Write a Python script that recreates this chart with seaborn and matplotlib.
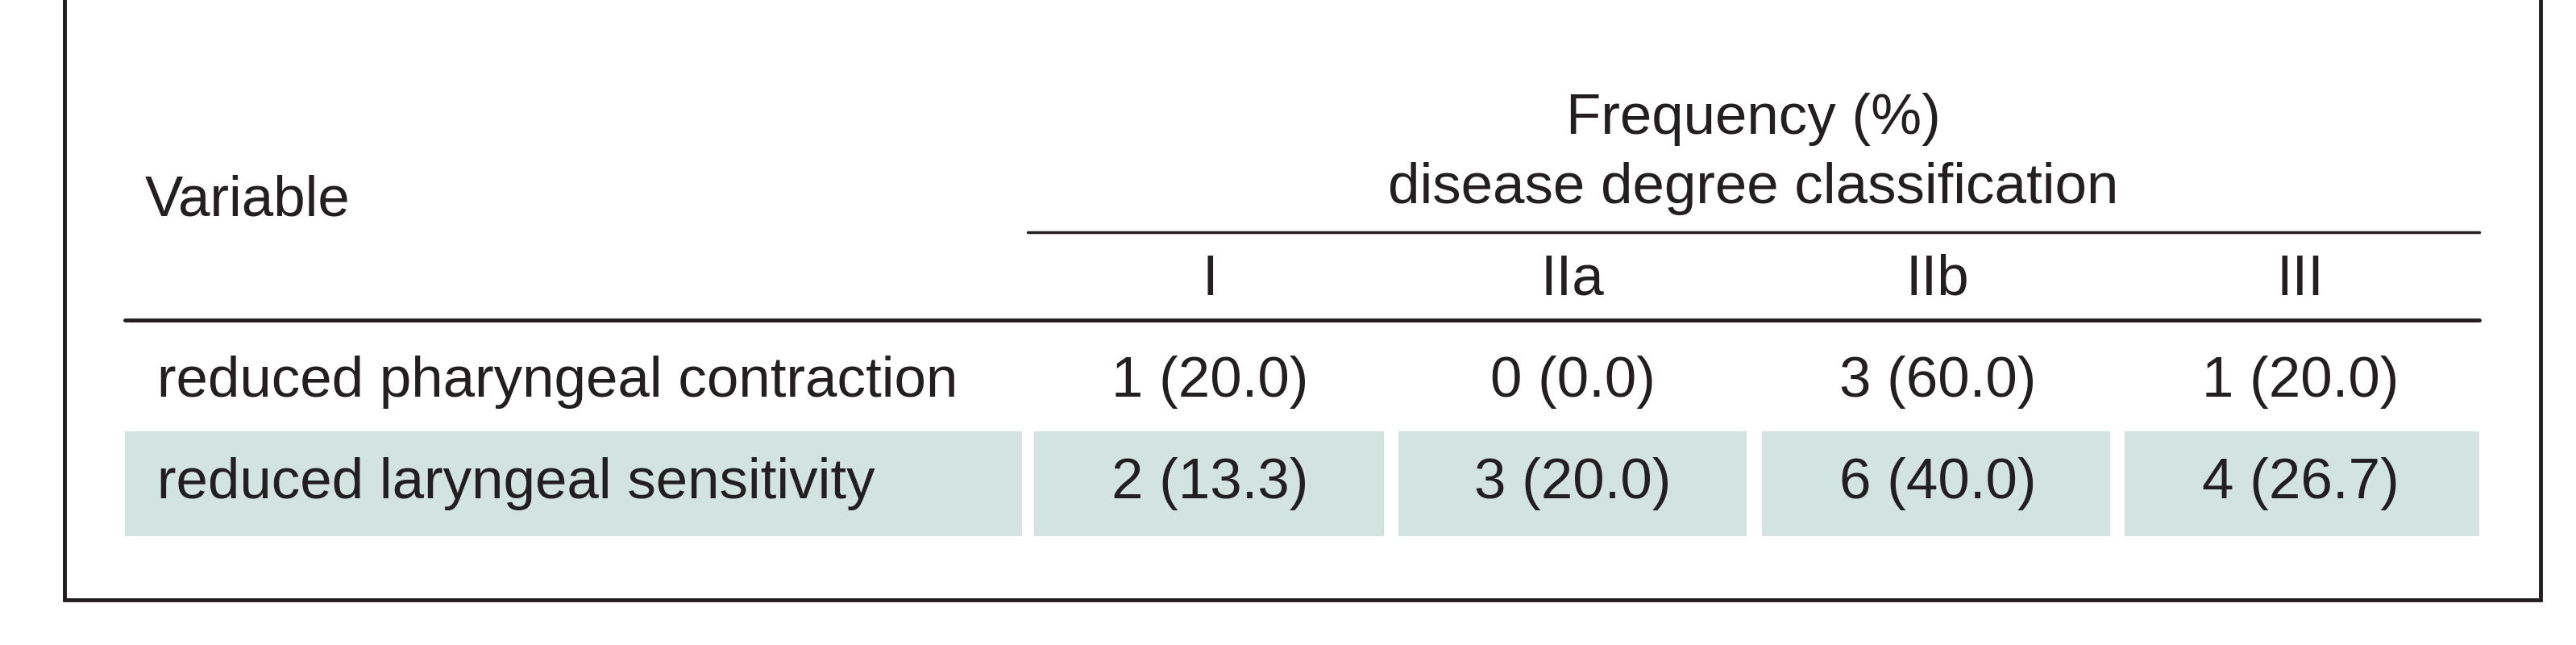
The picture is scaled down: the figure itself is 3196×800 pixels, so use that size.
import matplotlib
matplotlib.use("Agg")
import matplotlib.pyplot as plt
import seaborn as sns
from matplotlib.patches import Rectangle

sns.set_theme(style="white")
plt.rcParams['font.family'] = ['Liberation Sans Narrow', 'Liberation Sans', 'DejaVu Sans']

header_left = "Variable"
header_group = ["Frequency (%)", "disease degree classification"]
columns = ["I", "IIa", "IIb", "III"]
row_labels = ["reduced pharyngeal contraction", "reduced laryngeal sensitivity"]
counts = [[1, 0, 3, 1], [2, 3, 6, 4]]
percents = [[20.0, 0.0, 60.0, 20.0], [13.3, 20.0, 40.0, 26.7]]

W, H = 3196, 800
fig = plt.figure(figsize=(W / 100, H / 100), dpi=100)
ax = fig.add_axes([0, 0, 1, 1])
ax.set_xlim(0, W)
ax.set_ylim(H, 0)
ax.axis("off")

tc = "#231f20"
fs = 51
# outer box (top is cut off)
ax.plot([80, 80, 3152, 3152], [-10, 744, 744, -10], color=tc, lw=3.5, solid_joinstyle="miter")

col_centers = [1501, 1951, 2404, 2854]
cell_bounds = [(155, 1268), (1283, 1717), (1735, 2167), (2186, 2618), (2636, 3076)]
shade = "#d3e3df"

ax.text(180, 250, header_left, fontsize=fs, color=tc, va="center", ha="left")
ax.text(2175, 148, header_group[0], fontsize=fs, color=tc, va="center", ha="center")
ax.text(2175, 234, header_group[1], fontsize=fs, color=tc, va="center", ha="center")
ax.plot([1275, 3076], [288, 288], color=tc, lw=2.5)
for c, x in zip(columns, col_centers):
    ax.text(x, 348, c, fontsize=fs, color=tc, va="center", ha="center")
ax.plot([155, 3076], [397, 397], color=tc, lw=3.5)

row_y = [474, 600]
for r, (lab, cnt, pct) in enumerate(zip(row_labels, counts, percents)):
    y = row_y[r]
    if r == 1:
        for x0, x1 in cell_bounds:
            ax.add_patch(Rectangle((x0, 535), x1 - x0, 130, color=shade, lw=0))
    ax.text(195, y, lab, fontsize=fs, color=tc, va="center", ha="left")
    for x, n, p in zip(col_centers, cnt, pct):
        ax.text(x, y, f"{n} ({p:.1f})", fontsize=fs, color=tc, va="center", ha="center")

fig.savefig("out.png", dpi=100, facecolor="white")
